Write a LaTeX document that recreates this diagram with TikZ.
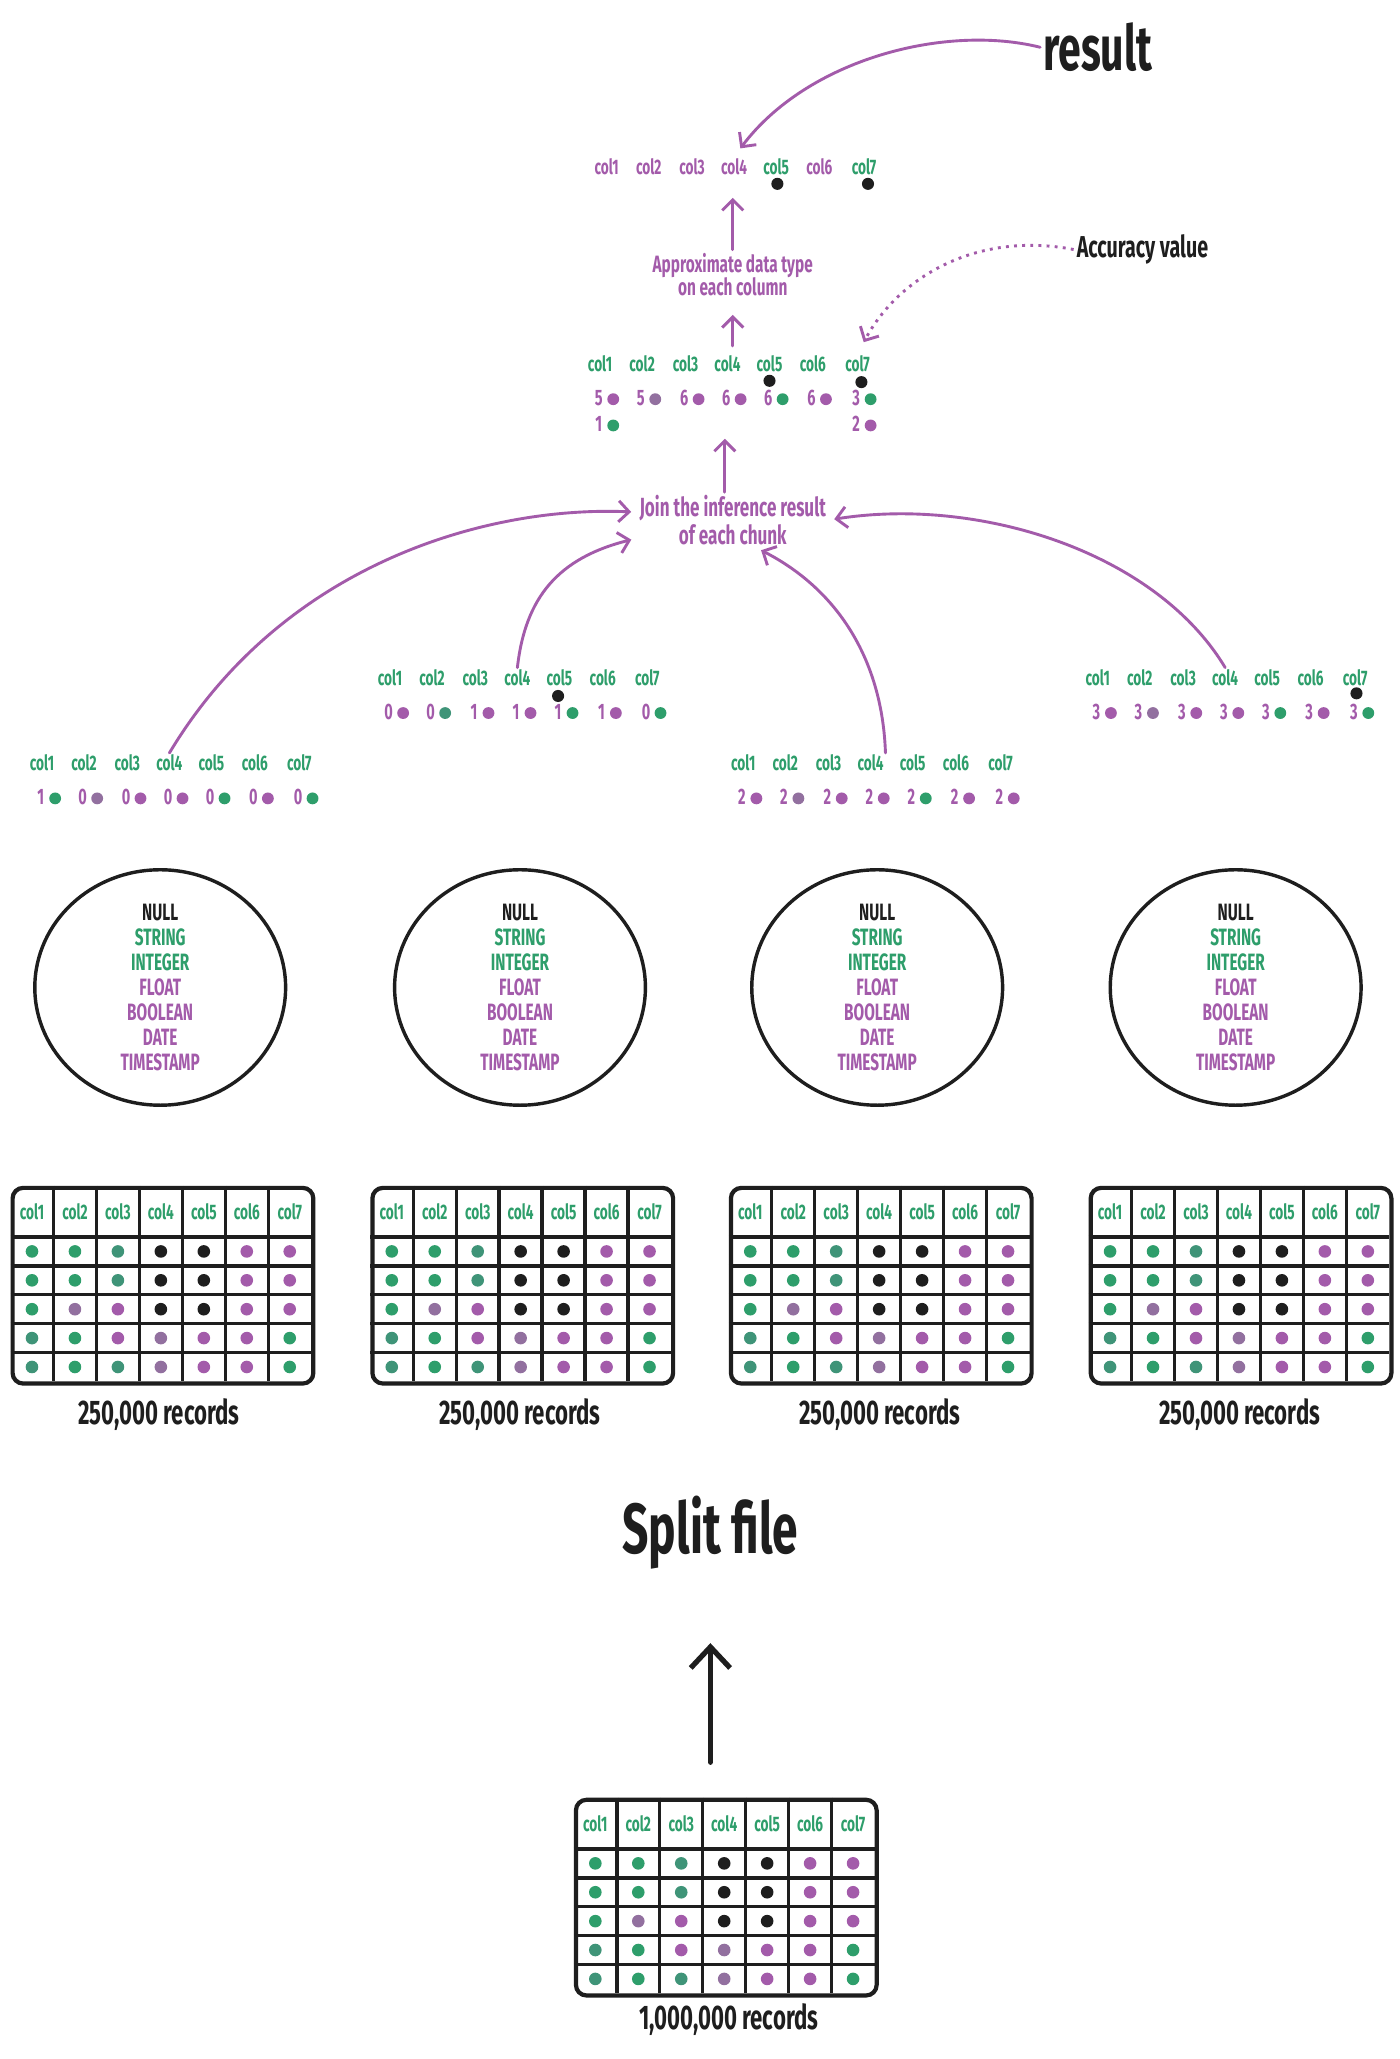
\documentclass[tikz,border=0pt]{standalone}
\usepackage{fontspec}
\setmainfont{Fira Sans}[FakeStretch=0.65]
\usetikzlibrary{arrows.meta,shapes.geometric}
\definecolor{tg}{HTML}{2E9E6B}
\definecolor{tp}{HTML}{A35BAA}
\definecolor{tk}{HTML}{1E1E1E}
\definecolor{mg}{HTML}{3F9478}
\definecolor{mp}{HTML}{92709F}
\tikzset{
  lbl/.style={font=\fontsize{8}{8.5}\selectfont\bfseries, inner sep=0.5pt},
  digit/.style={font=\fontsize{8.5}{9}\selectfont\bfseries, text=tp, inner sep=0.5pt},
  vdot/.style={circle, minimum size=4.5pt, inner sep=0pt},
  kdot/.style={circle, fill=tk, minimum size=4.6pt, inner sep=0pt},
  tdot/.style={circle, minimum size=4.8pt, inner sep=0pt},
  ptxt/.style={text=tp, align=center, inner sep=1pt},
  ktxt/.style={text=tk, align=center, inner sep=1pt},
  parrow/.style={draw=tp, line width=1.1pt, line cap=round, -{Straight Barb[length=4pt,width=8pt]}},
  darrow/.style={draw=tp, line width=1.1pt, dotted, -{Straight Barb[length=4pt,width=8pt]}},
  karrow/.style={draw=tk, line width=2pt, line cap=round, -{Straight Barb[length=8pt,width=15pt,line width=2pt]}},
  tbox/.style={draw=tk, line width=1.6pt, rounded corners=4pt, minimum width=114.5pt, minimum height=74.5pt, inner sep=0pt},
  gline/.style={draw=tk, line width=1.3pt},
  ell/.style={draw=tk, line width=1.3pt, ellipse, minimum width=95.5pt, minimum height=89.5pt, inner sep=0pt, align=center, font=\fontsize{9}{9.5}\selectfont\bfseries}
}
\newcommand{\datatable}[3]{%
  \begin{scope}[shift={(#1,#2)}]
    \node[tbox, anchor=north west] (#3) at (0,0) {};
    \foreach \i in {1,...,6} \draw[gline] ({\i*229/7},0) -- ({\i*229/7},149);
    \foreach \j in {0,...,4} \draw[gline] (0,{39+\j*22}) -- (229,{39+\j*22});
    \foreach \i in {1,...,7} \node[lbl,text=tg] (#3h\i) at ({(\i-0.5)*229/7},19.5) {col\i};
    \foreach \row [count=\r] in {{tg,tg,mg,tk,tk,tp,tp},{tg,tg,mg,tk,tk,tp,tp},{tg,mp,tp,tk,tk,tp,tp},{mg,tg,tp,mp,tp,tp,tg},{mg,tg,mg,mp,tp,tp,tg}}
      \foreach \cc [count=\i] in \row
        \node[tdot,fill=\cc] (#3d\r\i) at ({(\i-0.5)*229/7},{39+(\r-0.5)*22}) {};
  \end{scope}}
\newcommand{\chunkrow}[4]{%
  \foreach \dg/\cc [count=\i] in {#4} {
    \pgfmathsetmacro{\cx}{#2+{0,32,65,97,129,162,196}[\i-1]}
    \node[lbl,text=tg] (#1h\i) at (\cx,#3) {col\i};
    \node[digit] (#1n\i) at (\cx-1,#3+26) {\dg};
    \node[vdot,fill=\cc] (#1v\i) at (\cx+10,#3+27) {};
  }}
\begin{document}
\begin{tikzpicture}[x=0.5pt,y=-0.5pt]
\fill[white] (0,0) rectangle (1066,1568);
\useasboundingbox (0,0) rectangle (1066,1568);

% result row
\node[ktxt, font=\fontsize{24}{26}\selectfont\bfseries] (res) at (836,36) {result};
\foreach \c/\x/\col in {1/462/tp,2/494/tp,3/527/tp,4/559/tp,5/591/tg,6/624/tp,7/658/tg}
  \node[lbl,text=\col] (r\c) at (\x,127) {col\c};
\node[kdot] (rk5) at (592,140) {};
\node[kdot] (rk7) at (661,140) {};
\draw[parrow, shorten >=4pt] (res.west) .. controls (720,18) and (615,45) .. (r4.north);

% approximate
\node[ptxt, font=\fontsize{9}{9}\selectfont\bfseries] (apx) at (558,209) {Approximate data type\\on each column};
\draw[parrow, shorten >=8pt] (apx.north) -- (apx.north |- r4.south);

% accuracy
\node[ktxt, font=\fontsize{11.5}{12}\selectfont\bfseries] (acc) at (870,190) {Accuracy value};

% joined row
\foreach \c/\x in {1/457,2/489,3/522,4/554,5/586,6/619,7/653}
  \node[lbl,text=tg] (s\c) at (\x,277) {col\c};
\node[kdot] (sk5) at (586,290) {};
\node[kdot] (sk7) at (656,291) {};
\foreach \c/\x/\dg/\col in {1/457/5/tp,2/489/5/mp,3/522/6/tp,4/554/6/tp,5/586/6/tg,6/619/6/tp,7/653/3/tg} {
  \node[digit] (sn\c) at (\x-1,303) {\dg};
  \node[vdot,fill=\col] (sv\c) at (\x+10,304) {};
}
\node[digit] (wn1) at (456,323) {1};
\node[vdot,fill=tg] (wv1) at (467,324) {};
\node[digit] (wn7) at (652,323) {2};
\node[vdot,fill=tp] (wv7) at (663,324) {};
\draw[parrow, shorten <=3pt, shorten >=6pt] (apx.south |- s4.north) -- (apx.south);
\draw[darrow, shorten >=5pt] (acc.west) .. controls (745,176) and (685,210) .. (s7.north);

% join
\node[ptxt, font=\fontsize{10}{10.5}\selectfont\bfseries] (join) at (558,396) {Join the inference result\\of each chunk};
\draw[parrow, shorten >=2pt] ([xshift=-3pt]join.north) -- ([xshift=-3pt]join.north |- wn1.south);

% chunk results
\chunkrow{A}{32}{581}{1/tg,0/mp,0/tp,0/tp,0/tg,0/tp,0/tg}
\chunkrow{B}{297}{516}{0/tp,0/mg,1/tp,1/tp,1/tg,1/tp,0/tg}
\chunkrow{C}{566}{581}{2/tp,2/mp,2/tp,2/tp,2/tg,2/tp,2/tp}
\chunkrow{D}{836}{516}{3/tp,3/mp,3/tp,3/tp,3/tg,3/tp,3/tg}
\node[kdot] (Bk5) at (425,530) {};
\node[kdot] (Dk7) at (1033,528) {};

\draw[parrow, shorten >=2pt] (Ah4.north) .. controls (215,430) and (370,385) .. ([yshift=3pt]join.west);
\draw[parrow, shorten >=2pt] (Bh4.north) .. controls (400,455) and (425,425) .. ([yshift=-7pt]join.west);
\draw[parrow, shorten >=2pt] (Ch4.north east) .. controls (672,505) and (640,450) .. ([xshift=9pt]join.south);
\draw[parrow, shorten >=2pt] (Dh4.north) .. controls (880,420) and (745,378) .. (join.east);

% type ellipses
\foreach \k/\x in {1/122,2/396,3/668,4/941}
  \node[ell] (e\k) at (\x,752) {\textcolor{tk}{NULL}\\\textcolor{tg}{STRING}\\\textcolor{tg}{INTEGER}\\\textcolor{tp}{FLOAT}\\\textcolor{tp}{BOOLEAN}\\\textcolor{tp}{DATE}\\\textcolor{tp}{TIMESTAMP}};

% tables
\datatable{8}{903}{Ta}
\datatable{282}{903}{Tb}
\datatable{555}{903}{Tc}
\datatable{829}{903}{Td}
\datatable{437}{1369}{T0}
\foreach \k/\x in {1/121,2/396,3/670,4/944}
  \node[ktxt, font=\fontsize{13}{14}\selectfont\bfseries] (rec\k) at (\x,1077) {250,000 records};
\node[ktxt, font=\fontsize{13}{14}\selectfont\bfseries] (rec0) at (555,1538) {1,000,000 records};

% split
\node[ktxt, font=\fontsize{27}{28}\selectfont\bfseries] (split) at (541,1167) {Split file};
\draw[karrow, shorten <=13.5pt, shorten >=27pt] (split.south |- T0.north) -- (split.south);
\end{tikzpicture}
\end{document}
